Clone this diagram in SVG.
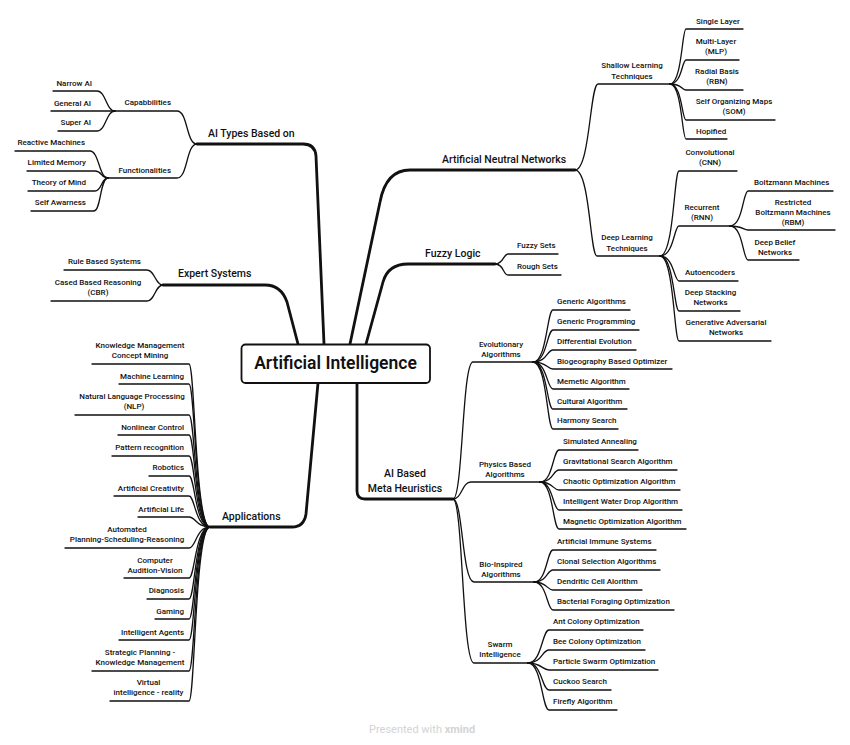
<svg xmlns="http://www.w3.org/2000/svg" width="850" height="745" viewBox="0 0 850 745">
<style>
text{font-family:Roboto,"Liberation Sans",sans-serif;fill:#111}
.t{font-size:8px;font-weight:500}
.b{font-size:10.5px;font-weight:500}
.c{font-size:17.5px;font-weight:600}
.m{text-anchor:middle}
.e{text-anchor:end}
.k{fill:none;stroke:#111;stroke-width:2.8;stroke-linecap:round;stroke-linejoin:round}
.l{fill:none;stroke:#111;stroke-width:1.3;stroke-linecap:round;stroke-linejoin:round}
.wm{font-size:11px;fill:#d4d4d4}
</style>
<rect width="850" height="745" fill="#fff"/>
<g id="connectors">
<path class="k" d="M324 344 L316 156 Q315 144 303 144 H197"/>
<path class="k" d="M298 344 L287 302 Q281 285 265 285 H163"/>
<path class="k" d="M318 383 L306 514 Q304 527 292 527 H210"/>
<path class="k" d="M350 344 L380 202 Q386 170 410 170 H575"/>
<path class="k" d="M366 344 L383 282 Q388 264 408 264 H495"/>
<path class="k" d="M357 383 V491 Q357 499 365 499 H453"/>
<path class="l" d="M197 144 C186 144 188 111 177 111 H115"/>
<path class="l" d="M197 144 C186 144 188 178 177 178 H108"/>
<path class="l" d="M115 111 C106 111 106 91 97 91 H53"/>
<path class="l" d="M115 111 H51"/>
<path class="l" d="M115 111 C106 111 106 131 97 131 H58"/>
<path class="l" d="M108 178 C99 178 99 151 90 151 H15"/>
<path class="l" d="M108 178 C101 178 102 171 95 171 H27"/>
<path class="l" d="M108 178 C101 178 102 191 95 191 H28"/>
<path class="l" d="M108 178 C100 178 101 211 94 211 H31"/>
<path class="l" d="M163 285 C155 285 155 270 147 270 H64"/>
<path class="l" d="M163 285 C155 285 155 301 147 301 H51"/>
<path class="l" d="M210 527 C195 527 195 364 189 364 H92"/>
<path class="l" d="M210 527 C195 527 195 384 189 384 H119"/>
<path class="l" d="M210 527 C195 527 195 415 189 415 H75"/>
<path class="l" d="M210 527 C195 527 195 435 189 435 H118"/>
<path class="l" d="M210 527 C195 527 195 456 189 456 H112"/>
<path class="l" d="M210 527 C195 527 195 476 189 476 H149"/>
<path class="l" d="M210 527 C195 527 195 496 189 496 H114"/>
<path class="l" d="M210 527 C196 527 196 517 189 517 H138"/>
<path class="l" d="M210 527 C196 527 196 548 189 548 H65"/>
<path class="l" d="M210 527 C195 527 195 578 189 578 H124"/>
<path class="l" d="M210 527 C195 527 195 599 189 599 H147"/>
<path class="l" d="M210 527 C195 527 195 619 189 619 H155"/>
<path class="l" d="M210 527 C195 527 195 640 189 640 H119"/>
<path class="l" d="M210 527 C195 527 195 671 189 671 H92"/>
<path class="l" d="M210 527 C195 527 195 701 189 701 H110"/>
<path class="l" d="M575 170 C590 170 590 84 598 84 H670"/>
<path class="l" d="M575 170 C590 170 590 256 597 256 H660"/>
<path class="l" d="M670 84 C682 84 682 29 686 29 H743"/>
<path class="l" d="M670 84 C682 84 682 60 686 60 H739"/>
<path class="l" d="M670 84 C682 84 682 90 686 90 H743"/>
<path class="l" d="M670 84 C682 84 682 120 686 120 H775"/>
<path class="l" d="M670 84 C682 84 682 139 686 139 H727"/>
<path class="l" d="M660 256 C674 256 674 171 679 171 H737"/>
<path class="l" d="M660 256 C674 256 674 226 679 226 H730"/>
<path class="l" d="M660 256 C674 256 674 281 679 281 H738"/>
<path class="l" d="M660 256 C674 256 674 311 679 311 H740"/>
<path class="l" d="M660 256 C674 256 674 341 679 341 H771"/>
<path class="l" d="M730 226 C743 226 743 191 748 191 H833"/>
<path class="l" d="M730 226 C743 226 743 230 748 230 H835"/>
<path class="l" d="M730 226 C743 226 743 260 748 260 H799"/>
<path class="l" d="M495 264 C504 264 503 254 508 254 H558"/>
<path class="l" d="M495 264 C504 264 503 275 508 275 H561"/>
<path class="l" d="M453 499 C463 499 462 362 473 362 H533"/>
<path class="l" d="M453 499 C462 499 462 482 471 482 H540"/>
<path class="l" d="M453 499 C463 499 462 582 474 582 H534"/>
<path class="l" d="M453 499 C463 499 462 663 474 663 H528"/>
<path class="l" d="M533 362 C547 362 547 310 553 310 H630"/>
<path class="l" d="M533 362 C547 362 547 330 553 330 H639"/>
<path class="l" d="M533 362 C547 362 547 350 553 350 H636"/>
<path class="l" d="M533 362 C547 362 547 369 553 369 H672"/>
<path class="l" d="M533 362 C547 362 547 389 553 389 H629"/>
<path class="l" d="M533 362 C547 362 547 409 553 409 H627"/>
<path class="l" d="M533 362 C547 362 547 429 553 429 H618"/>
<path class="l" d="M540 482 C553 482 553 450 559 450 H638"/>
<path class="l" d="M540 482 C553 482 553 470 559 470 H677"/>
<path class="l" d="M540 482 C553 482 553 490 559 490 H680"/>
<path class="l" d="M540 482 C553 482 553 510 559 510 H682"/>
<path class="l" d="M540 482 C553 482 553 529 559 529 H686"/>
<path class="l" d="M534 582 C547 582 547 550 553 550 H656"/>
<path class="l" d="M534 582 C547 582 547 570 553 570 H660"/>
<path class="l" d="M534 582 C547 582 547 590 553 590 H642"/>
<path class="l" d="M534 582 C547 582 547 610 553 610 H674"/>
<path class="l" d="M528 663 C542 663 542 630 549 630 H643"/>
<path class="l" d="M528 663 C542 663 542 650 549 650 H645"/>
<path class="l" d="M528 663 C542 663 542 670 549 670 H658"/>
<path class="l" d="M528 663 C542 663 542 690 549 690 H611"/>
<path class="l" d="M528 663 C542 663 542 710 549 710 H617"/>
</g>
<g id="n-center">
<rect x="241.5" y="344.5" width="188.5" height="38.5" rx="4" fill="#fff" stroke="#111" stroke-width="1.8"/>
<text class="c m" x="335.5" y="369">Artificial Intelligence</text>
</g>
<g id="n-ai-types"><text class="b" x="208" y="137">AI Types Based on</text></g>
<g id="n-capab"><text class="t e" x="171" y="105">Capabbilities</text></g>
<g id="n-narrow"><text class="t e" x="92" y="86">Narrow AI</text></g>
<g id="n-general"><text class="t e" x="91" y="106">General AI</text></g>
<g id="n-super"><text class="t e" x="91" y="125">Super AI</text></g>
<g id="n-func"><text class="t e" x="171" y="173">Functionalities</text></g>
<g id="n-reactive"><text class="t e" x="85" y="145">Reactive Machines</text></g>
<g id="n-limited"><text class="t e" x="86" y="165">Limited Memory</text></g>
<g id="n-theory"><text class="t e" x="86" y="185">Theory of Mind</text></g>
<g id="n-self"><text class="t e" x="86" y="205">Self Awarness</text></g>
<g id="n-expert"><text class="b" x="178" y="277">Expert Systems</text></g>
<g id="n-rule"><text class="t e" x="141" y="264">Rule Based Systems</text></g>
<g id="n-cbr"><text class="t m" x="98" y="285">Cased Based Reasoning</text><text class="t m" x="98" y="295">(CBR)</text></g>
<g id="n-apps"><text class="b" x="222" y="519.5">Applications</text></g>
<g id="n-km"><text class="t m" x="140" y="348">Knowledge Management</text><text class="t m" x="140" y="358">Concept Mining</text></g>
<g id="n-ml"><text class="t e" x="184" y="379">Machine Learning</text></g>
<g id="n-nlp"><text class="t m" x="132" y="399">Natural Language Processing</text><text class="t m" x="134" y="409">(NLP)</text></g>
<g id="n-nonlin"><text class="t e" x="184" y="430">Nonlinear Control</text></g>
<g id="n-pattern"><text class="t e" x="184" y="450">Pattern recognition</text></g>
<g id="n-robotics"><text class="t e" x="184" y="470">Robotics</text></g>
<g id="n-creativity"><text class="t e" x="184" y="491">Artificial Creativity</text></g>
<g id="n-life"><text class="t e" x="184" y="512">Artificial Life</text></g>
<g id="n-automated"><text class="t m" x="127" y="532">Automated</text><text class="t m" x="127" y="542">Planning-Scheduling-Reasoning</text></g>
<g id="n-computer"><text class="t m" x="155" y="563">Computer</text><text class="t m" x="155" y="573">Audition-Vision</text></g>
<g id="n-diagnosis"><text class="t e" x="184" y="593">Diagnosis</text></g>
<g id="n-gaming"><text class="t e" x="184" y="614">Gaming</text></g>
<g id="n-agents"><text class="t e" x="184" y="635">Intelligent Agents</text></g>
<g id="n-strategic"><text class="t m" x="140" y="655">Strategic Planning -</text><text class="t m" x="140" y="665">Knowledge Management</text></g>
<g id="n-virtual"><text class="t m" x="148.5" y="685">Virtual</text><text class="t m" x="148.5" y="695">intelligence - reality</text></g>
<g id="n-ann"><text class="b" x="442" y="163">Artificial Neutral Networks</text></g>
<g id="n-shallow"><text class="t m" x="632" y="68">Shallow Learning</text><text class="t m" x="632" y="79">Techniques</text></g>
<g id="n-single"><text class="t" x="696" y="24">Single Layer</text></g>
<g id="n-mlp"><text class="t m" x="716" y="44">Multi-Layer</text><text class="t m" x="716" y="54">(MLP)</text></g>
<g id="n-rbn"><text class="t m" x="717" y="74">Radial Basis</text><text class="t m" x="717" y="84">(RBN)</text></g>
<g id="n-som"><text class="t m" x="734" y="104">Self Organizing Maps</text><text class="t m" x="734" y="114">(SOM)</text></g>
<g id="n-hopified"><text class="t" x="696" y="134">Hopified</text></g>
<g id="n-deep"><text class="t m" x="627" y="240">Deep Learning</text><text class="t m" x="627" y="251">Techniques</text></g>
<g id="n-cnn"><text class="t m" x="710" y="155">Convolutional</text><text class="t m" x="710" y="165">(CNN)</text></g>
<g id="n-rnn"><text class="t m" x="702" y="210">Recurrent</text><text class="t m" x="702" y="220">(RNN)</text></g>
<g id="n-boltz"><text class="t" x="754" y="185">Boltzmann Machines</text></g>
<g id="n-rbm"><text class="t m" x="793" y="205">Restricted</text><text class="t m" x="793" y="215">Boltzmann Machines</text><text class="t m" x="793" y="225">(RBM)</text></g>
<g id="n-dbn"><text class="t m" x="775" y="245">Deep Belief</text><text class="t m" x="775" y="255">Networks</text></g>
<g id="n-auto"><text class="t" x="685" y="275">Autoencoders</text></g>
<g id="n-dsn"><text class="t m" x="710.5" y="295">Deep Stacking</text><text class="t m" x="710.5" y="305">Networks</text></g>
<g id="n-gan"><text class="t m" x="726" y="325">Generative Adversarial</text><text class="t m" x="726" y="335">Networks</text></g>
<g id="n-fuzzy"><text class="b" x="425" y="257">Fuzzy Logic</text></g>
<g id="n-fsets"><text class="t" x="517" y="248">Fuzzy Sets</text></g>
<g id="n-rsets"><text class="t" x="517" y="269">Rough Sets</text></g>
<g id="n-meta"><text class="b m" x="405" y="477">AI Based</text><text class="b m" x="405" y="492">Meta Heuristics</text></g>
<g id="n-evo"><text class="t m" x="501" y="347">Evolutionary</text><text class="t m" x="501" y="357">Algorithms</text></g>
<g id="n-ga"><text class="t" x="557" y="304">Generic Algorithms</text></g>
<g id="n-gp"><text class="t" x="557" y="324">Generic Programming</text></g>
<g id="n-de"><text class="t" x="557" y="344">Differential Evolution</text></g>
<g id="n-bbo"><text class="t" x="557" y="364">Biogeography Based Optimizer</text></g>
<g id="n-memetic"><text class="t" x="557" y="384">Memetic Algorithm</text></g>
<g id="n-cultural"><text class="t" x="557" y="404">Cultural Algorithm</text></g>
<g id="n-harmony"><text class="t" x="557" y="423">Harmony Search</text></g>
<g id="n-physics"><text class="t m" x="505" y="467">Physics Based</text><text class="t m" x="505" y="477">Algorithms</text></g>
<g id="n-sa"><text class="t" x="563" y="444">Simulated Annealing</text></g>
<g id="n-gsa"><text class="t" x="563" y="464">Gravitational Search Algorithm</text></g>
<g id="n-coa"><text class="t" x="563" y="484">Chaotic Optimization Algorithm</text></g>
<g id="n-iwd"><text class="t" x="563" y="504">Intelligent Water Drop Algorithm</text></g>
<g id="n-moa"><text class="t" x="563" y="524">Magnetic Optimization Algorithm</text></g>
<g id="n-bio"><text class="t m" x="501" y="567">Bio-Inspired</text><text class="t m" x="501" y="577">Algorithms</text></g>
<g id="n-ais"><text class="t" x="557" y="544">Artificial Immune Systems</text></g>
<g id="n-csa"><text class="t" x="557" y="564">Clonal Selection Algorithms</text></g>
<g id="n-dca"><text class="t" x="557" y="584">Dendritic Cell Alorithm</text></g>
<g id="n-bfo"><text class="t" x="557" y="604">Bacterial Foraging Optimization</text></g>
<g id="n-swarm"><text class="t m" x="500" y="647">Swarm</text><text class="t m" x="500" y="657">Intelligence</text></g>
<g id="n-aco"><text class="t" x="553" y="624">Ant Colony Optimization</text></g>
<g id="n-bco"><text class="t" x="553" y="644">Bee Colony Optimization</text></g>
<g id="n-pso"><text class="t" x="553" y="664">Particle Swarm Optimization</text></g>
<g id="n-cuckoo"><text class="t" x="553" y="684">Cuckoo Search</text></g>
<g id="n-firefly"><text class="t" x="553" y="704">Firefly Algorithm</text></g>
<g id="watermark"><text class="wm" x="369" y="733">Presented with <tspan font-weight="700">xmind</tspan></text></g>
</svg>
